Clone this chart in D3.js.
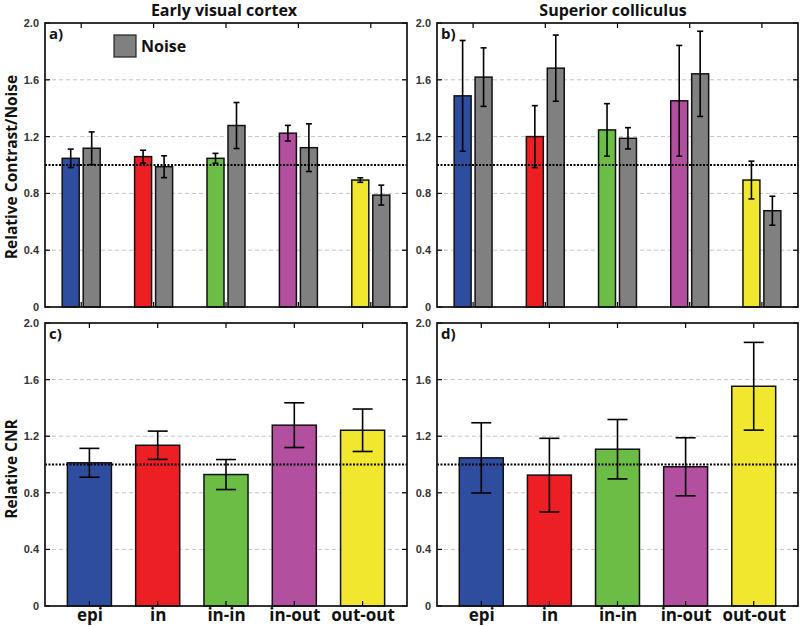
<!DOCTYPE html>
<html><head><meta charset="utf-8">
<script src="https://cdn.jsdelivr.net/npm/d3@7"></script>
<style>body{margin:0;background:#fff}svg{display:block}</style>
</head><body>
<svg id="c" width="800" height="626"></svg>
<script>
const categories = ["epi","in","in-in","in-out","out-out"];
const colors = ["#2f4d9f","#ec1f24","#6cbd45","#b24f9f","#f1e72f"];
const noiseColor = "#808080";
const yTicks = [0,0.4,0.8,1.2,1.6,2.0];
const yTickLabels = ["0","0.4","0.8","1.2","1.6","2.0"];
// Panel a: Early visual cortex - contrast & noise
const aContrast = [1.047,1.059,1.047,1.224,0.894];
const aContrastErr = [0.065,0.045,0.035,0.055,0.016];
const aNoise = [1.118,0.988,1.278,1.122,0.788];
const aNoiseErr = [0.115,0.077,0.162,0.168,0.070];
// Panel b: Superior colliculus - contrast & noise
const bContrast = [1.487,1.200,1.247,1.452,0.894];
const bContrastErr = [0.390,0.218,0.185,0.390,0.133];
const bNoise = [1.619,1.682,1.188,1.642,0.678];
const bNoiseErr = [0.206,0.233,0.075,0.300,0.102];
// Panel c: Early visual cortex - CNR
const cCNR = [1.012,1.136,0.929,1.278,1.242];
const cCNRErr = [0.102,0.100,0.106,0.158,0.150];
// Panel d: Superior colliculus - CNR
const dCNR = [1.047,0.925,1.108,0.984,1.553];
const dCNRErr = [0.248,0.260,0.210,0.205,0.310];

const svg = d3.select("#c");
const font = "'Open Sans', sans-serif";

const panels = [
  {label:"a)", x0:45, x1:407, y0:23, y1:307, grouped:true, c:aContrast, ce:aContrastErr, n:aNoise, ne:aNoiseErr, xl:[0.5,5.5]},
  {label:"b)", x0:437, x1:798, y0:23, y1:307, grouped:true, c:bContrast, ce:bContrastErr, n:bNoise, ne:bNoiseErr, xl:[0.5,5.5]},
  {label:"c)", x0:45, x1:407, y0:323, y1:606, grouped:false, c:cCNR, ce:cCNRErr, xl:[0.35,5.65]},
  {label:"d)", x0:437, x1:798, y0:323, y1:606, grouped:false, c:dCNR, ce:dCNRErr, xl:[0.35,5.65]}
];

function drawErr(g, x, yv, e, y, cap){
  g.append("line").attr("x1",x).attr("x2",x).attr("y1",y(yv-e)).attr("y2",y(yv+e))
    .attr("stroke","#000").attr("stroke-width",1.6);
  [yv-e, yv+e].forEach(v=>g.append("line").attr("x1",x-cap/2).attr("x2",x+cap/2)
    .attr("y1",y(v)).attr("y2",y(v)).attr("stroke","#000").attr("stroke-width",1.6));
}

panels.forEach(p=>{
  const x = d3.scaleLinear().domain(p.xl).range([p.x0,p.x1]);
  const y = d3.scaleLinear().domain([0,2]).range([p.y1,p.y0]);
  const g = svg.append("g");
  // grid
  g.selectAll(".grid").data(yTicks.filter(t=>t>0&&t<2)).enter().append("line")
    .attr("x1",p.x0).attr("x2",p.x1).attr("y1",d=>y(d)).attr("y2",d=>y(d))
    .attr("stroke","#c4c4c4").attr("stroke-width",1).attr("stroke-dasharray","4,3");
  // bars
  categories.forEach((cat,i)=>{
    const cx = x(i+1);
    if(p.grouped){
      const w = x(0.735)-x(0.5), off = x(0.645)-x(0.5);
      const xs = [cx-off, cx+off];
      const vals = [p.c[i], p.n[i]], errs=[p.ce[i], p.ne[i]], cols=[colors[i], noiseColor];
      for(let k=0;k<2;k++){
        g.append("rect").attr("x",xs[k]-w/2).attr("width",w).attr("y",y(vals[k])).attr("height",y(0)-y(vals[k]))
          .attr("fill",cols[k]).attr("stroke","#111").attr("stroke-width",1.5);
      }
      for(let k=0;k<2;k++) drawErr(g, xs[k], vals[k], errs[k], y, 6);
    } else {
      const w = x(1.145)-x(0.5);
      g.append("rect").attr("x",cx-w/2).attr("width",w).attr("y",y(p.c[i])).attr("height",y(0)-y(p.c[i]))
        .attr("fill",colors[i]).attr("stroke","#111").attr("stroke-width",1.5);
      drawErr(g, cx, p.c[i], p.ce[i], y, 20);
    }
  });
  // reference line at 1
  g.append("line").attr("x1",p.x0).attr("x2",p.x1).attr("y1",y(1)).attr("y2",y(1))
    .attr("stroke","#000").attr("stroke-width",2).attr("stroke-dasharray","2,1.5");
  // ticks inward
  yTicks.forEach(t=>{
    g.append("line").attr("x1",p.x0).attr("x2",p.x0+5).attr("y1",y(t)).attr("y2",y(t)).attr("stroke","#000").attr("stroke-width",1.2);
    g.append("line").attr("x1",p.x1).attr("x2",p.x1-5).attr("y1",y(t)).attr("y2",y(t)).attr("stroke","#000").attr("stroke-width",1.2);
  });
  categories.forEach((c,i)=>{
    g.append("line").attr("x1",x(i+1)).attr("x2",x(i+1)).attr("y1",p.y0).attr("y2",p.y0+5).attr("stroke","#000").attr("stroke-width",1.2);
    g.append("line").attr("x1",x(i+1)).attr("x2",x(i+1)).attr("y1",p.y1).attr("y2",p.y1-5).attr("stroke","#000").attr("stroke-width",1.2);
  });
  // frame
  g.append("rect").attr("x",p.x0).attr("y",p.y0).attr("width",p.x1-p.x0).attr("height",p.y1-p.y0)
    .attr("fill","none").attr("stroke","#111").attr("stroke-width",1.7);
  // y tick labels
  const yAxis = d3.axisLeft(y).tickValues(yTicks).tickFormat((d,i)=>yTickLabels[i]).tickSize(0).tickPadding(6);
  const ax = svg.append("g").attr("transform",`translate(${p.x0},0)`).call(yAxis);
  ax.select(".domain").remove();
  ax.selectAll("text").attr("font-family","'Liberation Sans', Arial, sans-serif").attr("font-weight","bold")
    .attr("font-size",11).attr("fill","#333");
  // panel label
  g.append("text").attr("x",p.x0+4).attr("y",p.y0+16).text(p.label)
    .attr("font-family",font).attr("font-weight","bold").attr("font-size",15).attr("fill","#111");
  // category labels bottom
  if(!p.grouped){
    const xa = d3.axisBottom(x).tickValues([1,2,3,4,5]).tickFormat((d)=>categories[d-1]).tickSize(0).tickPadding(3);
    const gx = svg.append("g").attr("transform",`translate(0,${p.y1})`).call(xa);
    gx.select(".domain").remove();
    gx.selectAll("text").attr("font-family",font).attr("font-weight","bold").attr("font-size",17).attr("fill","#111");
  }
});

// titles
svg.append("text").attr("x",224).attr("y",16).attr("text-anchor","middle").text("Early visual cortex")
  .attr("font-family",font).attr("font-weight","bold").attr("font-size",16).attr("fill","#111");
svg.append("text").attr("x",613).attr("y",16).attr("text-anchor","middle").text("Superior colliculus")
  .attr("font-family",font).attr("font-weight","bold").attr("font-size",16).attr("fill","#111");
// y labels
svg.append("text").attr("transform","translate(17,167) rotate(-90)").attr("text-anchor","middle").text("Relative Contrast/Noise")
  .attr("font-family",font).attr("font-weight","bold").attr("font-size",15.5).attr("fill","#111");
svg.append("text").attr("transform","translate(17,469) rotate(-90)").attr("text-anchor","middle").text("Relative CNR")
  .attr("font-family",font).attr("font-weight","bold").attr("font-size",15.5).attr("fill","#111");
// legend
svg.append("rect").attr("x",114).attr("y",35).attr("width",22).attr("height",22).attr("fill",noiseColor).attr("stroke","#222").attr("stroke-width",1.2);
svg.append("text").attr("x",141).attr("y",52).text("Noise").attr("font-family",font).attr("font-weight","bold").attr("font-size",16).attr("fill","#111");
</script>
</body></html>
